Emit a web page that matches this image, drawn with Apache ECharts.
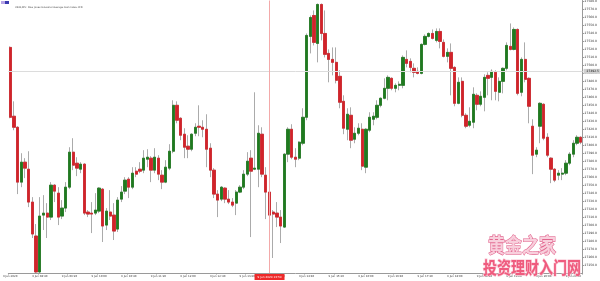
<!DOCTYPE html>
<html>
<head>
<meta charset="utf-8">
<script src="https://cdn.jsdelivr.net/npm/echarts@6/dist/echarts.min.js"></script>
<style>
  html, body { margin: 0; padding: 0; background: #fff; }
  #chart { width: 600px; height: 281px; }
</style>
</head>
<body>
<div id="chart"></div>
<script>
// US30 M5 candles: [open, close, low, high]
const candles = [
  [27522.5, 27435, 27433.8, 27523.8], [27436.3, 27422.5, 27418.8, 27455], [27422.5, 27353.8, 27338.8, 27423.8],
  [27353.8, 27378.8, 27347.5, 27390], [27378.8, 27371.3, 27358.8, 27383.8], [27370, 27328.8, 27322.5, 27392.5],
  [27328.8, 27288.8, 27283.8, 27335], [27286.3, 27241.3, 27240, 27301.3], [27241.3, 27311.3, 27240, 27335],
  [27312.5, 27315, 27293.8, 27337.5], [27315, 27310, 27283.8, 27327.5], [27310, 27350, 27306.3, 27353.8],
  [27350, 27342.5, 27328.8, 27351.3], [27340, 27310, 27300, 27347.5], [27311.3, 27321.3, 27307.5, 27331.3],
  [27321.3, 27347.5, 27316.3, 27353.8], [27347.5, 27391.3, 27345, 27397.5], [27391.3, 27375, 27368.8, 27408.8],
  [27377.5, 27371.3, 27361.3, 27385], [27370, 27376.3, 27365, 27378.8], [27376.3, 27315, 27312.5, 27377.5],
  [27316.3, 27313.8, 27310, 27318.8], [27315, 27313.8, 27290, 27328.8], [27315, 27318.8, 27312.5, 27340],
  [27317.5, 27346.3, 27315, 27347.5], [27345, 27298.8, 27278.8, 27346.3], [27300, 27317.5, 27293.8, 27321.3],
  [27316.3, 27311.3, 27306.3, 27343.8], [27312.5, 27292.5, 27281.3, 27327.5], [27295, 27331.3, 27291.3, 27335],
  [27332.5, 27341.3, 27328.8, 27348.8], [27342.5, 27356.3, 27338.8, 27360], [27357.5, 27347.5, 27333.8, 27360],
  [27347.5, 27365, 27345, 27372.5], [27367.5, 27363.8, 27360, 27372.5], [27370, 27367.5, 27365, 27378.8],
  [27368.8, 27383.8, 27365, 27393.8], [27382.5, 27385, 27372.5, 27395], [27383.8, 27368.8, 27353.8, 27386.3],
  [27368.8, 27385, 27365, 27396.3], [27383.8, 27363.8, 27356.3, 27387.5], [27362.5, 27353.8, 27345, 27368.8],
  [27353.8, 27372.5, 27352.5, 27381.3], [27371.3, 27392.5, 27368.8, 27401.3], [27392.5, 27450, 27390, 27456.3],
  [27450, 27431.3, 27427.5, 27455], [27433.8, 27412.5, 27406.3, 27435], [27413.8, 27397.5, 27383.8, 27421.3],
  [27398.8, 27395, 27383.8, 27412.5], [27395, 27413.8, 27392.5, 27415], [27415, 27422.5, 27411.3, 27427.5],
  [27423.8, 27422.5, 27411.3, 27450], [27422.5, 27420, 27410, 27431.3], [27420, 27395, 27372.5, 27438.8],
  [27396.3, 27368.8, 27360, 27402.5], [27368.8, 27338.8, 27333.8, 27371.3], [27338.8, 27331.3, 27310, 27343.8],
  [27332.5, 27347.5, 27330, 27348.8], [27346.3, 27332.5, 27327.5, 27347.5], [27332.5, 27328.8, 27326.3, 27343.8],
  [27328.8, 27325, 27322.5, 27333.8], [27327.5, 27341.3, 27312.5, 27343.8], [27341.3, 27347.5, 27340, 27350],
  [27347.5, 27363.8, 27345, 27368.8], [27363.8, 27380, 27361.3, 27391.3], [27383.8, 27367.5, 27285, 27393.8],
  [27370, 27371.3, 27368.8, 27466.3], [27370, 27415, 27347.5, 27425], [27413.8, 27363.8, 27360, 27422.5],
  [27362.5, 27341.3, 27307.5, 27372.5], [27341.3, 27312.5, 27308.8, 27343.8], [27316.3, 27313.8, 27258.8, 27318.8],
  [27315, 27310, 27297.5, 27328.8], [27310, 27298.8, 27277.5, 27318.8], [27297.5, 27388.8, 27296.3, 27390],
  [27388.8, 27420, 27378.8, 27422.5], [27420, 27385, 27382.5, 27426.3], [27385, 27382.5, 27372.5, 27396.3],
  [27383.8, 27403.8, 27381.3, 27405], [27402.5, 27435, 27400, 27446.3], [27435, 27537.5, 27431.3, 27540],
  [27536.3, 27560, 27515, 27562.5], [27562.5, 27528.8, 27525, 27568.8], [27527.5, 27576.3, 27503.8, 27577.5],
  [27576.3, 27540, 27531.3, 27577.5], [27540, 27513.8, 27510, 27568.8], [27515, 27507.5, 27478.8, 27520],
  [27507.5, 27503.8, 27487.5, 27522.5], [27503.8, 27481.3, 27477.5, 27522.5], [27486.3, 27453.8, 27446.3, 27493.8],
  [27455, 27421.3, 27413.8, 27462.5], [27420, 27438.8, 27406.3, 27446.3], [27437.5, 27406.3, 27396.3, 27447.5],
  [27407.5, 27415, 27402.5, 27422.5], [27415, 27421.3, 27412.5, 27427.5], [27420, 27373.8, 27368.8, 27427.5],
  [27372.5, 27420, 27365, 27421.3], [27418.8, 27435, 27416.3, 27441.3], [27432.5, 27436.3, 27425, 27441.3],
  [27435, 27450, 27432.5, 27456.3], [27450, 27458.8, 27447.5, 27460], [27458.8, 27471.3, 27457.5, 27483.8],
  [27471.3, 27485, 27456.3, 27487.5], [27483.8, 27471.3, 27468.8, 27485], [27471.3, 27475, 27466.3, 27477.5],
  [27475, 27476.3, 27468.8, 27480], [27475, 27510, 27471.3, 27512.5], [27507.5, 27502.5, 27497.5, 27518.8],
  [27505, 27497.5, 27491.3, 27508.8], [27496.3, 27491.3, 27485, 27502.5], [27492.5, 27490, 27488.8, 27497.5],
  [27490, 27526.3, 27488.8, 27527.5], [27526.3, 27536.3, 27525, 27538.8], [27536.3, 27540, 27535, 27541.3],
  [27540, 27533.8, 27532.5, 27545], [27531.3, 27542.5, 27528.8, 27546.3], [27542.5, 27530, 27521.3, 27546.3],
  [27528.8, 27511.3, 27510, 27532.5], [27511.3, 27516.3, 27503.8, 27521.3], [27516.3, 27496.3, 27462.5, 27527.5],
  [27497.5, 27452.5, 27448.8, 27498.8], [27452.5, 27478.8, 27451.3, 27485], [27480, 27437.5, 27435, 27485],
  [27437.5, 27423.8, 27421.3, 27440], [27425, 27430, 27422.5, 27447.5], [27428.8, 27463.8, 27421.3, 27472.5],
  [27462.5, 27451.3, 27443.8, 27465], [27451.3, 27461.3, 27448.8, 27467.5], [27460, 27485, 27442.5, 27488.8],
  [27487.5, 27483.8, 27462.5, 27491.3], [27485, 27492.5, 27456.3, 27495], [27491.3, 27467.5, 27456.3, 27493.8],
  [27466.3, 27480, 27455, 27485], [27480, 27496.3, 27465, 27497.5], [27496.3, 27525, 27493.8, 27528.8],
  [27523.8, 27520, 27518.8, 27552.5], [27520, 27545, 27518.8, 27547.5], [27545, 27465, 27462.5, 27546.3],
  [27466.3, 27507.5, 27461.3, 27510], [27507.5, 27482.5, 27478.8, 27528.8], [27483.8, 27448.8, 27427.5, 27485],
  [27423.8, 27387.5, 27363.8, 27432.5], [27388.8, 27393.8, 27385, 27397.5], [27423.8, 27452.5, 27402.5, 27453.8],
  [27451.3, 27408.8, 27406.3, 27452.5], [27410, 27387.5, 27385, 27415], [27383.8, 27370, 27352.5, 27385],
  [27370, 27356.3, 27353.8, 27371.3], [27362.5, 27365, 27356.3, 27368.8], [27363.8, 27365, 27356.3, 27371.3],
  [27365, 27377.5, 27362.5, 27381.3], [27377.5, 27388.8, 27375, 27391.3], [27388.8, 27402.5, 27385, 27406.3],
  [27402.5, 27410, 27400, 27412.5], [27410, 27403.8, 27401.3, 27411.3]
]

// time axis labels, one every 8 bars
const tickLabels = [
  '9 Jun 2020', '9 Jun 08:40', '9 Jun 09:20', '9 Jun 10:00', '9 Jun 10:40',
  '9 Jun 11:20', '9 Jun 12:00', '9 Jun 12:40', '9 Jun 13:20', '9 Jun 14:00',
  '9 Jun 14:40', '9 Jun 15:20', '9 Jun 16:00', '9 Jun 16:40', '9 Jun 17:20',
  '9 Jun 18:00', '9 Jun 18:40', '9 Jun 19:20', '9 Jun 20:00', '9 Jun 20:40'
]

const priceLine = 27492.5
const cursorBar = 70
const cursorLabel = '9 Jun 2020 13:50'
const title = 'US30,M5:  Dow Jones Industrial Average Cash Index CFD'

const upColor = '#1f7a1f'
const downColor = '#d2232a'
const wickColor = '#ababab'

const categories = candles.map((_, i) => i)
// bodies only (no wick), drawn on top of the gray wick series
const bodies = candles.map(([o, c]) => [o, c, Math.min(o, c), Math.max(o, c)])

const chart = echarts.init(document.getElementById('chart'))

chart.setOption({
  animation: false,
  backgroundColor: '#fff',
  title: {
    text: title,
    left: 10,
    top: 1,
    textStyle: { fontSize: 2.4, fontWeight: 'normal', color: '#444', fontFamily: 'DejaVu Sans' }
  },
  graphic: [
    { type: 'rect', left: 1, top: 1, shape: { width: 4, height: 3 }, style: { fill: '#b9a6e6' } },
    { type: 'rect', left: 5, top: 1, shape: { width: 4, height: 3 }, style: { fill: '#3b3bb0' } },
    {
      type: 'text', x: 488, y: 235, scaleY: 1.2, z: 100,
      style: {
        text: '黄金之家', font: 'bold 17px "Noto Sans CJK SC"',
        fill: '#f8cfdc', stroke: '#e2668f', lineWidth: 1
      }
    },
    {
      type: 'text', x: 483, y: 259, scaleY: 1.25, z: 100,
      style: {
        text: '投资理财入门网', font: 'bold 14px "Noto Sans CJK SC"',
        fill: '#ef5b7e', stroke: '#f9c4d2', lineWidth: 1
      }
    }
  ],
  grid: { left: 1, right: 13, top: 0, bottom: 8 },
  xAxis: {
    type: 'category',
    data: categories,
    boundaryGap: true,
    axisLine: { lineStyle: { color: '#9a9a9a', width: 1 } },
    axisTick: { show: true, interval: 7, length: 1.5, lineStyle: { color: '#9a9a9a' } },
    axisLabel: {
      interval: 7,
      fontSize: 2.7,
      margin: 2,
      color: '#333',
      fontFamily: 'DejaVu Sans',
      formatter: (val, idx) => tickLabels[idx / 8] || ''
    },
    splitLine: { show: false }
  },
  yAxis: {
    type: 'value',
    position: 'right',
    min: 27240,
    max: 27581.25,
    interval: 10,
    axisLine: { show: true, lineStyle: { color: '#9a9a9a', width: 1 } },
    axisTick: { show: true, length: 1.5, lineStyle: { color: '#9a9a9a' } },
    axisLabel: {
      fontSize: 3,
      margin: 2,
      color: '#333',
      fontFamily: 'DejaVu Sans',
      showMinLabel: false,
      showMaxLabel: false,
      formatter: (v) => v.toFixed(1)
    },
    splitLine: { show: false }
  },
  series: [
    {
      name: 'wick',
      type: 'candlestick',
      data: candles,
      barWidth: 2.8,
      itemStyle: {
        color: wickColor, color0: wickColor,
        borderColor: wickColor, borderColor0: wickColor,
        borderWidth: 1
      },
      markLine: {
        silent: true,
        symbol: ['none', 'none'],
        animation: false,
        data: [
          {
            yAxis: priceLine,
            lineStyle: { color: '#dcdcdc', width: 1, type: 'solid' },
            label: {
              show: true, position: 'end', distance: 1,
              formatter: priceLine.toFixed(1),
              fontSize: 3, color: '#222', backgroundColor: '#cfcfcf',
              padding: [1, 3, 1, 3], fontFamily: 'DejaVu Sans'
            }
          },
          {
            xAxis: cursorBar,
            lineStyle: { color: '#f3a9a9', width: 1, type: 'solid' },
            label: {
              show: true, position: 'start', distance: 1,
              formatter: cursorLabel,
              fontSize: 2.8, color: '#fff', backgroundColor: '#ee2a2a',
              padding: [1.5, 3, 1.5, 3], fontFamily: 'DejaVu Sans'
            }
          }
        ]
      }
    },
    {
      name: 'body',
      type: 'candlestick',
      data: bodies,
      barWidth: 2.8,
      itemStyle: {
        color: upColor, color0: downColor,
        borderColor: upColor, borderColor0: downColor,
        borderWidth: 0.8
      }
    }
  ]
})
</script>
</body>
</html>
